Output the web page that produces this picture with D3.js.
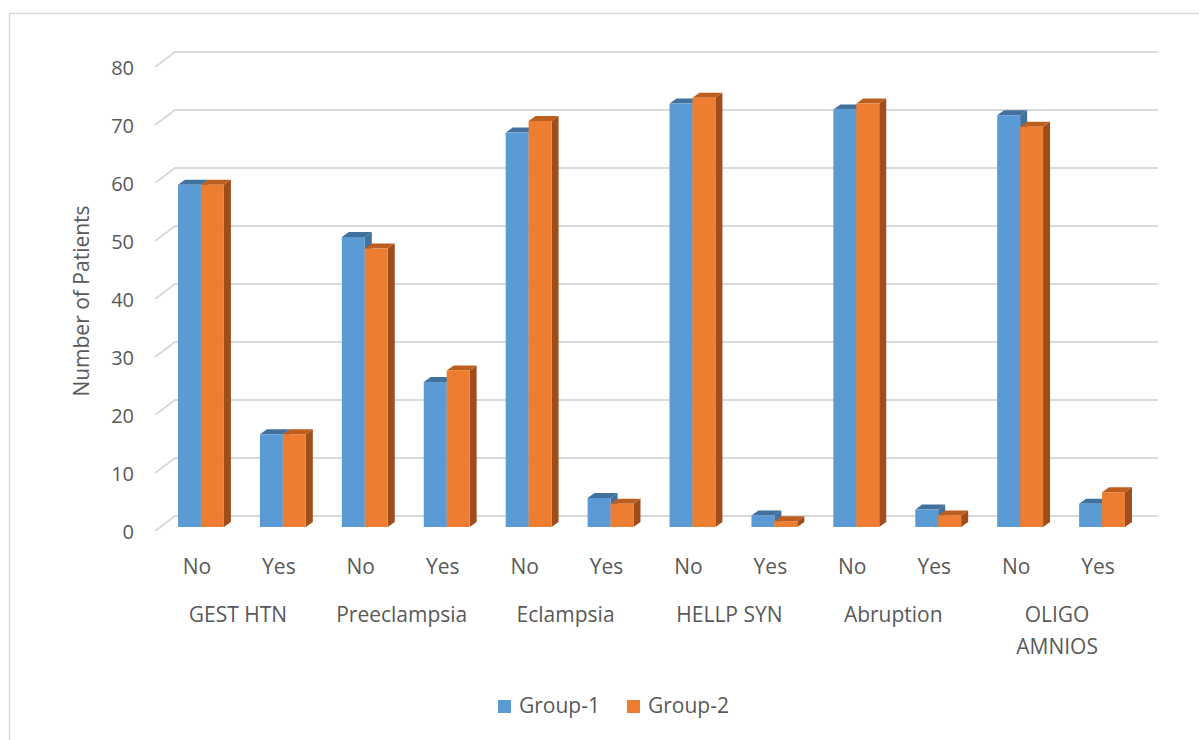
<!DOCTYPE html>
<html>
<head>
<meta charset="utf-8">
<script src="https://cdn.jsdelivr.net/npm/d3@7"></script>
<style>
  body { margin: 0; background: #fff; }
  svg text { font-family: "Open Sans", Lato, sans-serif; fill: #595959; }
</style>
</head>
<body>
<svg width="1199" height="740"></svg>
<script>
const categories = ["GEST HTN", "Preeclampsia", "Eclampsia", "HELLP SYN", "Abruption", "OLIGO AMNIOS"];
const answers = ["No", "Yes"];
const seriesNames = ["Group-1", "Group-2"];
const group1 = [59, 16, 50, 25, 68, 5, 73, 2, 72, 3, 71, 4];
const group2 = [59, 16, 48, 27, 70, 4, 74, 1, 73, 2, 69, 6];
const yTicks = [0, 10, 20, 30, 40, 50, 60, 70, 80];

const svg = d3.select("svg");

// chart border (extends past the right/bottom of the picture)
svg.append("rect")
   .attr("x", 9.5).attr("y", 13.5)
   .attr("width", 1300).attr("height", 800)
   .attr("fill", "none").attr("stroke", "#d9d9d9").attr("stroke-width", 1.5);

// pseudo-3D geometry: front plane + back wall offset
const depth = { dx: 20, dy: -15 };
const barDepth = { dx: 7, dy: -5 };
const barShift = { dx: 5, dy: -4 };

const slots = [];
categories.forEach(c => answers.forEach(a => slots.push(c + "|" + a)));

const x = d3.scaleBand().domain(slots).range([155, 1138]).paddingInner(0.44).paddingOuter(0.22);
const xs = d3.scaleBand().domain(seriesNames).range([0, x.bandwidth()]);
const y = d3.scaleLinear().domain([0, 80]).range([531, 67]);

// gridlines: slanted floor edge + back wall line
const grid = svg.append("g");
yTicks.forEach(t => {
  grid.append("polyline")
      .attr("points", `155,${y(t)} ${155 + depth.dx},${y(t) + depth.dy} ${1138 + depth.dx},${y(t) + depth.dy}`)
      .attr("fill", "none").attr("stroke", "#d9d9d9").attr("stroke-width", 2);
});

// y axis labels
svg.append("g").selectAll("text")
   .data(yTicks).enter().append("text")
   .attr("x", 134).attr("y", d => y(d) + 1)
   .attr("dy", "0.35em").attr("text-anchor", "end")
   .style("font-size", "20px")
   .text(d => d);

svg.append("text")
   .attr("transform", "translate(82,301) rotate(-90)")
   .attr("text-anchor", "middle")
   .attr("dy", "0.35em")
   .style("font-size", "21px")
   .text("Number of Patients");

// bars
const colors = {
  "Group-1": { front: "#5b9bd5", top: "#41719c", side: "#41719c" },
  "Group-2": { front: "#ed7d31", top: "#bd5e1f", side: "#9e4d1b" }
};
const rows = [];
slots.forEach((s, i) => {
  rows.push({ slot: s, series: "Group-1", value: group1[i] });
  rows.push({ slot: s, series: "Group-2", value: group2[i] });
});

const bars = svg.append("g");
rows.forEach(d => {
  const x0 = x(d.slot) + xs(d.series) + barShift.dx;
  const x1 = x0 + xs.bandwidth();
  const yb = y(0) + barShift.dy;
  const yt = y(d.value) + barShift.dy;
  const c = colors[d.series];
  const g = bars.append("g");
  g.append("polygon")
   .attr("points", `${x1},${yt} ${x1 + barDepth.dx},${yt + barDepth.dy} ${x1 + barDepth.dx},${yb + barDepth.dy} ${x1},${yb}`)
   .attr("fill", c.side);
  g.append("polygon")
   .attr("points", `${x0},${yt} ${x0 + barDepth.dx},${yt + barDepth.dy} ${x1 + barDepth.dx},${yt + barDepth.dy} ${x1},${yt}`)
   .attr("fill", c.top);
  g.append("rect")
   .attr("x", x0).attr("y", yt)
   .attr("width", xs.bandwidth()).attr("height", yb - yt)
   .attr("fill", c.front);
});

// x labels
const xl = svg.append("g");
slots.forEach(s => {
  xl.append("text")
    .attr("x", x(s) + x.bandwidth() / 2 + 1).attr("y", 567)
    .attr("dy", "0.35em")
    .attr("text-anchor", "middle")
    .style("font-size", "21px")
    .text(s.split("|")[1]);
});
categories.forEach(c => {
  const cx = (x(c + "|No") + x(c + "|Yes") + x.bandwidth()) / 2 + 1;
  const words = c === "OLIGO AMNIOS" ? ["OLIGO", "AMNIOS"] : [c];
  words.forEach((w, i) => {
    xl.append("text")
      .attr("x", cx).attr("y", 615 + i * 32)
      .attr("dy", "0.35em")
      .attr("text-anchor", "middle")
      .style("font-size", "21px")
      .text(w);
  });
});

// legend
const legend = svg.append("g").attr("transform", "translate(498,706)");
seriesNames.forEach((n, i) => {
  const lg = legend.append("g").attr("transform", `translate(${i * 129},0)`);
  lg.append("rect").attr("x", 0).attr("y", -6).attr("width", 13).attr("height", 13)
    .attr("fill", colors[n].front);
  lg.append("text").attr("x", 21).attr("y", 0).attr("dy", "0.35em")
    .style("font-size", "21px").text(n);
});
</script>
</body>
</html>
